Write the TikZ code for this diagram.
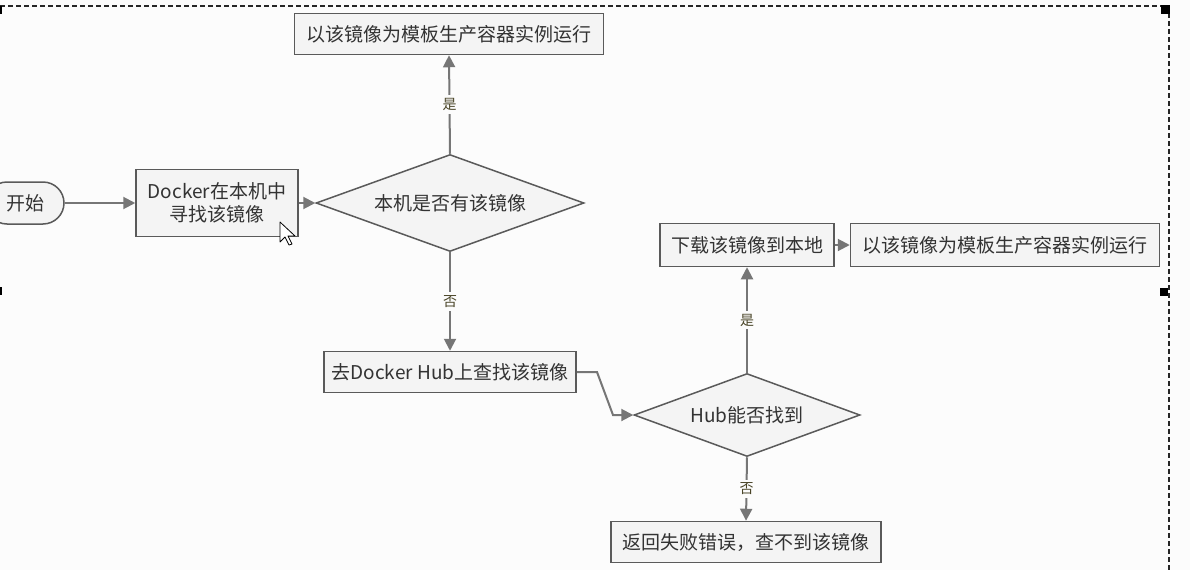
\documentclass[tikz,border=0pt]{standalone}
\usepackage{fontspec}
\setmainfont{Noto Sans CJK SC}
\usetikzlibrary{shapes.geometric,arrows.meta}
\definecolor{bg}{HTML}{FCFCFC}
\definecolor{boxfill}{HTML}{F4F4F4}
\definecolor{boxline}{HTML}{5A5A5A}
\definecolor{connc}{HTML}{767676}
\definecolor{txt}{HTML}{333333}
\definecolor{lblc}{HTML}{4A4528}
\begin{document}
\begin{tikzpicture}[x=1pt,y=-1pt,
  box/.style={draw=boxline,fill=boxfill,line width=1.5pt,inner sep=0pt,text=txt,
    font=\fontsize{19}{23}\selectfont,align=center},
  dia/.style={diamond,draw=boxline,fill=boxfill,line width=1.5pt,inner sep=0pt,text=txt,
    font=\fontsize{19}{23}\selectfont},
  conn/.style={draw=connc,line width=2pt,-{Triangle[length=12pt,width=12pt]}},
  lbl/.style={fill=bg,text=lblc,font=\fontsize{14}{16}\selectfont,inner sep=3pt},
  handle/.style={fill=black,draw=none}]
\useasboundingbox (0,0) rectangle (1190,570);
\fill[bg] (0,0) rectangle (1190,570);
\begin{scope}
\clip (0,0) rectangle (1190,570);
% selection frame
\draw[black!85,line width=2pt,dash pattern=on 5pt off 3pt] (0,6) -- (1169,6) -- (1169,575);
\fill[handle] (1161,5) rectangle (1170,14);
\fill[handle] (1160,288) rectangle (1168,296);
\fill[handle] (-4,287) rectangle (2,295);
\fill[handle] (-4,6) rectangle (2,14);
% nodes
\node[box,rounded corners=21pt,minimum width=78pt,minimum height=42pt] (start) at (25,203) {开始};
\end{scope}
\node[box,minimum width=162pt,minimum height=67pt] (find) at (217,203) {Docker在本机中\\寻找该镜像};
\node[dia,minimum width=268pt,minimum height=97pt,shape aspect=2.76] (d1) at (450,203) {本机是否有该镜像};
\node[box,minimum width=309pt,minimum height=41pt] (run1) at (449,34) {以该镜像为模板生产容器实例运行};
\node[box,minimum width=252pt,minimum height=41pt] (hub) at (450,372) {去Docker Hub上查找该镜像};
\node[dia,minimum width=226pt,minimum height=83pt,shape aspect=2.72] (d2) at (747,415) {Hub能否找到};
\node[box,minimum width=174pt,minimum height=43pt] (down) at (747,245) {下载该镜像到本地};
\node[box,minimum width=309pt,minimum height=43pt] (run2) at (1005,245) {以该镜像为模板生产容器实例运行};
\node[box,minimum width=270pt,minimum height=41pt] (fail) at (746,542) {返回失败错误，查不到该镜像};
% connectors
\coordinate (k1) at (597,372);
\coordinate (k2) at (613,415);
\draw[conn] (start.east) -- (find.west);
\draw[conn] (find.east) -- (d1.west);
\draw[conn] (d1.north) -- node[lbl]{是} (run1.south);
\draw[conn] (d1.south) -- node[lbl]{否} (hub.north);
\draw[conn] (hub.east) -- (k1) -- (k2) -- (d2.west);
\draw[conn] (d2.north) -- node[lbl]{是} (down.south);
\draw[conn] (d2.south) -- node[lbl]{否} (fail.north);
\draw[conn] (down.east) -- (run2.west);
% mouse cursor
\draw[black,fill=white,line width=0.8pt,line join=round]
  (280,222) -- (280,242) -- (285,237) -- (289,245) -- (292,244) -- (288,236) -- (295,236) -- cycle;
\end{tikzpicture}
\end{document}
